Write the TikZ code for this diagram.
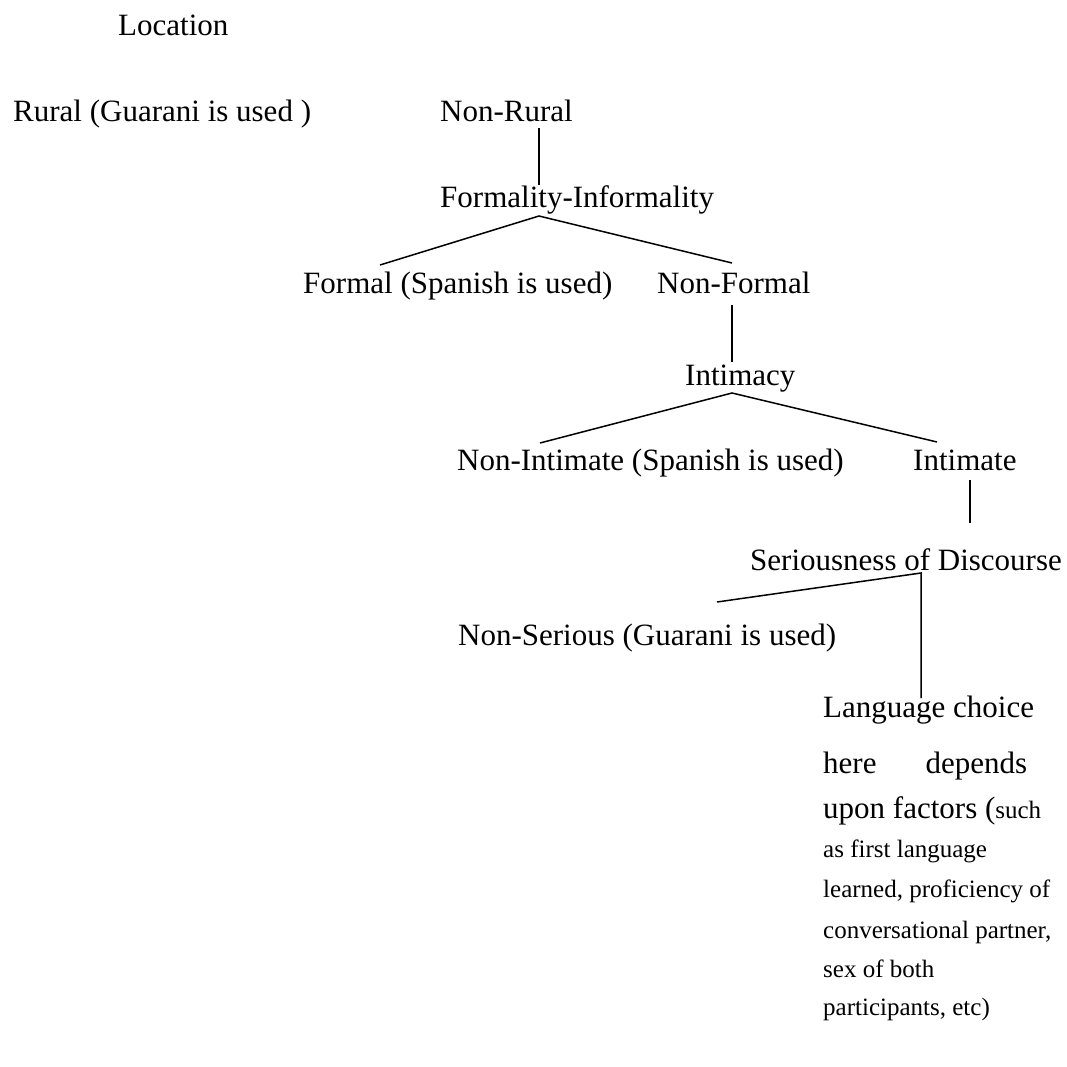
\documentclass[tikz,border=0pt]{standalone}
\usepackage{fontspec}
\setmainfont{Liberation Serif}
\newcommand{\smalltxt}{\fontsize{25}{30}\selectfont}

\begin{document}
\begin{tikzpicture}[x=1pt, y=-1pt,
    lbl/.style={anchor=base west, inner sep=0pt, font=\fontsize{31}{37}\selectfont},
    branch/.style={line width=1.5pt}]
    \useasboundingbox (0,0) rectangle (1067,1067);

    \node[lbl] (location) at (118,36) {Location};
    \node[lbl] (rural) at (13,122) {Rural (Guarani is used )};
    \node[lbl] (nonrural) at (440,122) {Non-Rural};
    \node[lbl] (formality) at (440,208) {Formality-Informality};
    \node[lbl] (formal) at (303,293) {Formal (Spanish is used)};
    \node[lbl] (nonformal) at (657,293) {Non-Formal};
    \node[lbl] (intimacy) at (685,385) {Intimacy};
    \node[lbl] (nonintimate) at (457,470) {Non-Intimate (Spanish is used)};
    \node[lbl] (intimate) at (913,470) {Intimate};
    \node[lbl] (serious) at (750,570) {Seriousness of Discourse};
    \node[lbl] (nonserious) at (458,645) {Non-Serious (Guarani is used)};

    % note under the last branch, one node per line
    \foreach \y/\txt [count=\i] in {717/Language choice,
        773/here\hspace{49pt}depends,
        818/{upon factors ({\smalltxt such}},
        857/{\smalltxt as first language},
        897/{\smalltxt learned, proficiency of},
        938/{\smalltxt conversational partner,},
        977/{\smalltxt sex of both},
        1015/{\smalltxt participants, etc)}}
    \node[lbl] (note\i) at (823,\y) {\txt};

    \draw[branch] ([shift={(99,6)}]nonrural.base west) -- ([shift={(99,-23)}]formality.base west);
    \draw[branch] ([shift={(77,-28)}]formal.base west) -- ([shift={(99,8)}]formality.base west)
        -- ([shift={(75,-30)}]nonformal.base west);
    \draw[branch] ([shift={(75,12)}]nonformal.base west) -- ([shift={(47,-23)}]intimacy.base west);
    \draw[branch] ([shift={(83,-27)}]nonintimate.base west) -- ([shift={(47,8)}]intimacy.base west)
        -- ([shift={(24,-28)}]intimate.base west);
    \draw[branch] ([shift={(57,10)}]intimate.base west) -- ([shift={(220,-47)}]serious.base west);
    \draw[branch] ([shift={(259,-43)}]nonserious.base west) -- ([shift={(171,3)}]serious.base west)
        -- ([shift={(98,-19)}]note1.base west);
\end{tikzpicture}
\end{document}
